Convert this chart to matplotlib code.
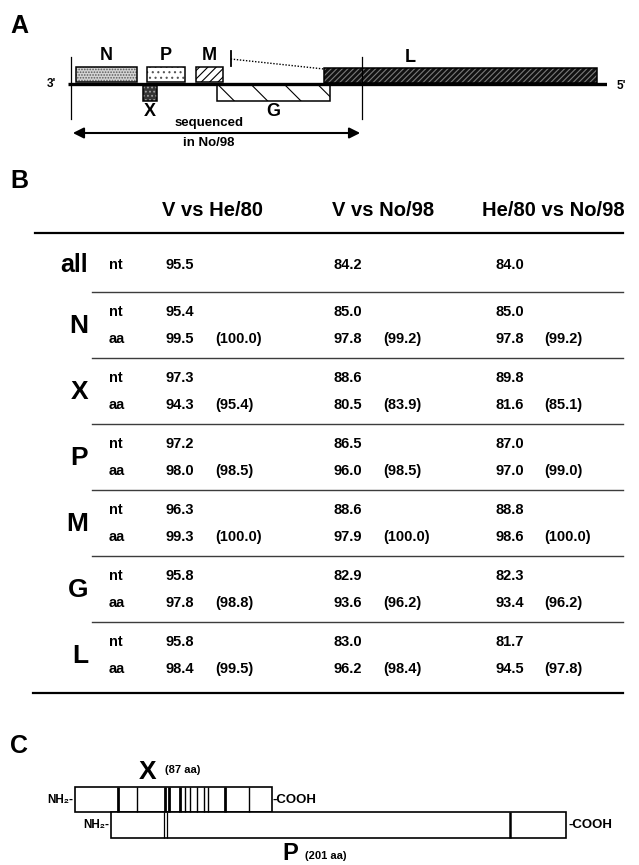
import matplotlib

matplotlib.use("Agg")
import matplotlib.pyplot as plt
from matplotlib.patches import Rectangle

plt.rcParams["font.family"] = ["Liberation Sans", "DejaVu Sans"]
plt.rcParams["font.weight"] = "bold"
plt.rcParams["hatch.linewidth"] = 0.8

# ---- panel A: genome map, positions in nt ----
GENOME_LEN = 8910
orf_names = ["N", "P", "M", "X", "G", "L"]
orf_start = [130, 1310, 2115, 1240, 2465, 4230]
orf_end = [1140, 1935, 2560, 1470, 4330, 8745]
seq_start, seq_end = 50, 4860
mark_nt = 2690

# ---- panel B: identities (%) ----
comparisons = ["V vs He/80", "V vs No/98", "He/80 vs No/98"]
genes = ["N", "X", "P", "M", "G", "L"]
all_nt = [95.5, 84.2, 84.0]
nt_v_he = [95.4, 97.3, 97.2, 96.3, 95.8, 95.8]
aa_v_he = [99.5, 94.3, 98.0, 99.3, 97.8, 98.4]
sim_v_he = [100.0, 95.4, 98.5, 100.0, 98.8, 99.5]
nt_v_no = [85.0, 88.6, 86.5, 88.6, 82.9, 83.0]
aa_v_no = [97.8, 80.5, 96.0, 97.9, 93.6, 96.2]
sim_v_no = [99.2, 83.9, 98.5, 100.0, 96.2, 98.4]
nt_he_no = [85.0, 89.8, 87.0, 88.8, 82.3, 81.7]
aa_he_no = [97.8, 81.6, 97.0, 98.6, 93.4, 94.5]
sim_he_no = [99.2, 85.1, 99.0, 100.0, 96.2, 97.8]

# ---- panel C: X and P proteins, positions in aa ----
x_len, p_len = 87, 201
x_shift = -16  # start of X relative to start of P
x_diff = [19, 27.5, 40, 41.5, 46.5, 48.5, 51, 54, 57, 59, 66.5, 76.8]
x_diff_major = [1, 0, 1, 1, 1, 0, 0, 0, 0, 0, 1, 0]
p_diff = [23.2, 24.9, 176.2]
p_diff_major = [0, 0, 1]

W, H = 639, 865
fig = plt.figure(figsize=(W / 100, H / 100), dpi=100)
ax = fig.add_axes([0, 0, 1, 1])
ax.set_xlim(0, W)
ax.set_ylim(H, 0)
ax.axis("off")


def box(a, x0, x1, y0, y1, face="white", hatch=None, hc="black", lw=1.1):
    a.add_patch(Rectangle((x0, y0), x1 - x0, y1 - y0, facecolor=face, edgecolor="none"))
    if hatch:
        a.add_patch(Rectangle((x0, y0), x1 - x0, y1 - y0, facecolor="none",
                              edgecolor=hc, lw=0, hatch=hatch))
    a.add_patch(Rectangle((x0, y0), x1 - x0, y1 - y0, facecolor="none",
                          edgecolor="black", lw=lw))


# panel letters
for lab, y in zip("ABC", [26, 181, 746]):
    ax.text(10, y, lab, fontsize=18, ha="left", va="center")

# ---------------- A ----------------
axa = fig.add_axes([68 / W, 1 - 160 / H, (607 - 68) / W, 120 / H])
axa.set_xlim(0, GENOME_LEN)
axa.set_ylim(160, 40)
axa.axis("off")

styles = {
    "N": dict(face="#d4d4d4", hatch="......", hc="#5a5a5a", y=(67, 82)),
    "P": dict(face="white", hatch="...", hc="#555555", y=(67, 82)),
    "M": dict(face="white", hatch="////", hc="black", y=(67, 82)),
    "X": dict(face="#333333", hatch="....", hc="#a0a0a0", y=(85, 101)),
    "G": dict(face="white", hatch="\\", hc="black", y=(85, 101)),
    "L": dict(face="#111111", hatch="//////", hc="#7a7a7a", y=(68, 83)),
}
axa.plot([0, GENOME_LEN], [84, 84], color="black", lw=2.4, solid_capstyle="butt")
for name, s, e in zip(orf_names, orf_start, orf_end):
    st = styles[name]
    box(axa, s, e, st["y"][0], st["y"][1], st["face"], st["hatch"], st["hc"])
    if name in ("N", "P", "M"):
        axa.text((s + e) / 2, 56, name, fontsize=13, ha="center", va="center")
    elif name == "L":
        axa.text(s + 1420, 57, name, fontsize=13, ha="center", va="center")
    else:
        axa.text((s + e) / 2, 112, name, fontsize=13, ha="center", va="center")

axa.plot([mark_nt, mark_nt], [51, 66], color="black", lw=1.3)
axa.plot([mark_nt, orf_start[orf_names.index("L")]], [59, 69], color="black",
         lw=1.0, ls=(0, (1, 1.2)))
for xv in (seq_start, seq_end):
    axa.plot([xv, xv], [57, 119], color="black", lw=0.9)
axa.annotate("", xy=(seq_start + 30, 133), xytext=(seq_end - 30, 133),
             arrowprops=dict(arrowstyle="<|-|>", color="black", lw=1.5,
                             mutation_scale=16, shrinkA=0, shrinkB=0))
axa.text(2330, 123, "sequenced", fontsize=9.5, ha="center", va="center")
axa.text(2330, 143, "in No/98", fontsize=9.5, ha="center", va="center")
axa.text(-280, 84, "3'", fontsize=8.5, ha="center", va="center")
axa.text(9150, 86, "5'", fontsize=8.5, ha="center", va="center")

# ---------------- B ----------------
col_val = [166, 334, 495]
col_cx = [213, 383, 553]
PAREN_DX = 49
for cx, t in zip(col_cx, comparisons):
    ax.text(cx, 211, t, fontsize=14.5, ha="center", va="center")
ax.plot([35, 623], [233, 233], color="black", lw=1.6)
ax.text(88, 265, "all", fontsize=18, ha="right", va="center")
ax.text(109, 265, "nt", fontsize=10.5, ha="left", va="center")
for cx, v in zip(col_val, all_nt):
    ax.text(cx, 265, f"{v:.1f}", fontsize=10.5, ha="left", va="center")

nt_cols = [nt_v_he, nt_v_no, nt_he_no]
aa_cols = [aa_v_he, aa_v_no, aa_he_no]
sim_cols = [sim_v_he, sim_v_no, sim_he_no]
for i, g in enumerate(genes):
    top = 292 + 66 * i
    ax.plot([92, 623], [top, top], color="#3c3c3c", lw=1.0)
    ax.text(88, top + 34, g, fontsize=19, ha="right", va="center")
    ax.text(109, top + 20, "nt", fontsize=10.5, ha="left", va="center")
    ax.text(109, top + 47, "aa", fontsize=10.5, ha="left", va="center")
    for c in range(3):
        ax.text(col_val[c], top + 20, f"{nt_cols[c][i]:.1f}", fontsize=10.5,
                ha="left", va="center")
        ax.text(col_val[c], top + 47, f"{aa_cols[c][i]:.1f}", fontsize=10.5,
                ha="left", va="center")
        ax.text(col_val[c] + PAREN_DX, top + 47, f"({sim_cols[c][i]:.1f})",
                fontsize=10.5, ha="left", va="center")
ax.plot([33, 623], [693, 693], color="black", lw=1.6)

# ---------------- C ----------------
PX_PER_AA = 2.265
P_X0 = 111
axc = fig.add_axes([0, 0, 1, 165 / H])
axc.set_xlim(-P_X0 / PX_PER_AA, (W - P_X0) / PX_PER_AA)
axc.set_ylim(865, 700)
axc.axis("off")

box(axc, x_shift, x_shift + x_len, 787, 812, lw=1.2)
box(axc, 0, p_len, 812, 838, lw=1.2)
for pos, major in zip(x_diff, x_diff_major):
    axc.vlines(x_shift + pos, 787, 812, color="black", lw=2.0 if major else 1.0)
for pos, major in zip(p_diff, p_diff_major):
    axc.vlines(pos, 812, 838, color="black", lw=1.8 if major else 0.9)

axc.text(x_shift - 0.8, 800, "NH₂-", fontsize=8.5, ha="right", va="center")
axc.text(-0.8, 825, "NH₂-", fontsize=8.5, ha="right", va="center")
axc.text(x_shift + x_len + 0.5, 800, "-COOH", fontsize=9.5, ha="left", va="center")
axc.text(p_len + 1, 825, "-COOH", fontsize=9.5, ha="left", va="center")

ax.text(148, 772, "X", fontsize=19, ha="center", va="center")
ax.text(165, 770, f"({x_len} aa)", fontsize=8, ha="left", va="center")
ax.text(290, 853, "P", fontsize=17, ha="center", va="center")
ax.text(305, 856, f"({p_len} aa)", fontsize=8, ha="left", va="center")

fig.savefig("out.png", dpi=100)
